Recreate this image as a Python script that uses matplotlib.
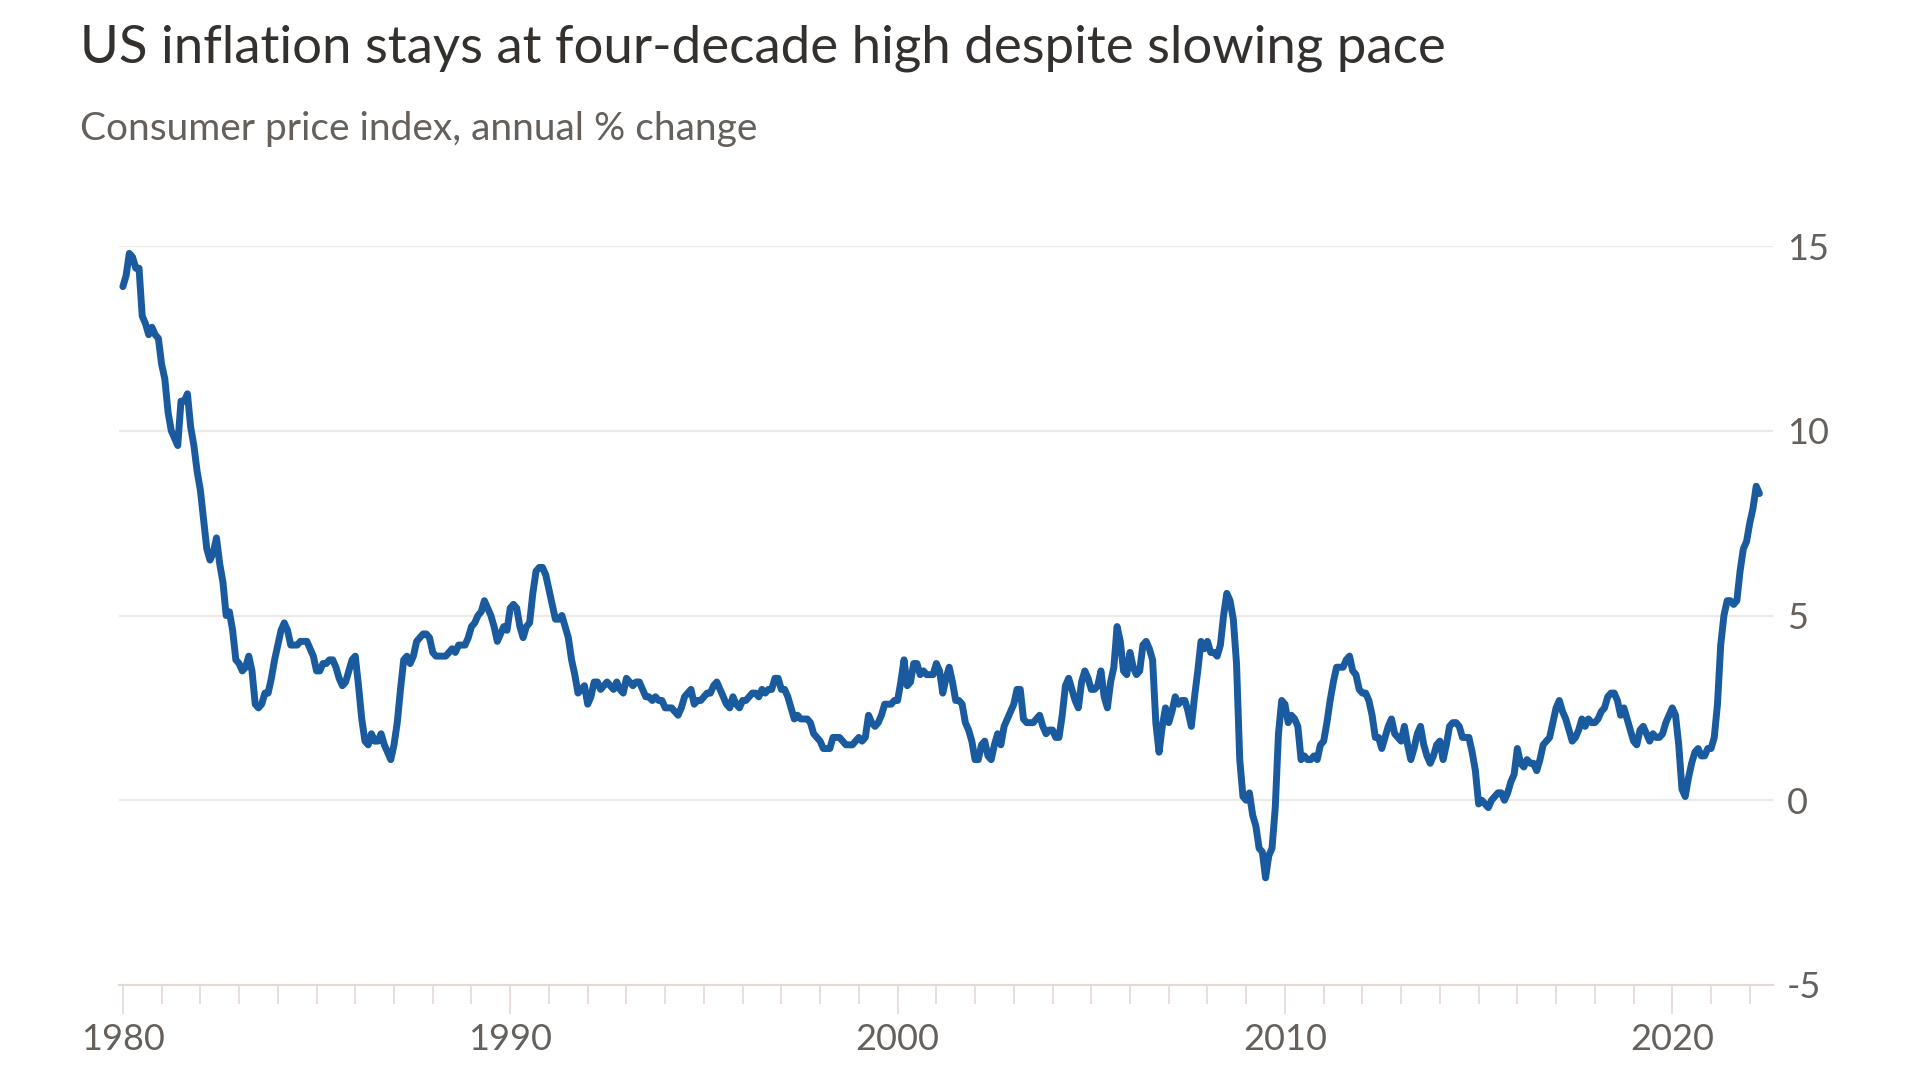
import numpy as np
import matplotlib
matplotlib.use("Agg")
import matplotlib.pyplot as plt
from matplotlib.ticker import MultipleLocator, FixedLocator

plt.rcParams['font.family'] = ['Lato', 'DejaVu Sans']
plt.rcParams['axes.unicode_minus'] = False

# US CPI, annual % change, monthly from Jan 1980 to Apr 2022
cpi_by_year = {
    1980: [13.9, 14.2, 14.8, 14.7, 14.4, 14.4, 13.1, 12.9, 12.6, 12.8, 12.6, 12.5],
    1981: [11.8, 11.4, 10.5, 10.0, 9.8, 9.6, 10.8, 10.8, 11.0, 10.1, 9.6, 8.9],
    1982: [8.4, 7.6, 6.8, 6.5, 6.7, 7.1, 6.4, 5.9, 5.0, 5.1, 4.6, 3.8],
    1983: [3.7, 3.5, 3.6, 3.9, 3.5, 2.6, 2.5, 2.6, 2.9, 2.9, 3.3, 3.8],
    1984: [4.2, 4.6, 4.8, 4.6, 4.2, 4.2, 4.2, 4.3, 4.3, 4.3, 4.1, 3.9],
    1985: [3.5, 3.5, 3.7, 3.7, 3.8, 3.8, 3.6, 3.3, 3.1, 3.2, 3.5, 3.8],
    1986: [3.9, 3.1, 2.2, 1.6, 1.5, 1.8, 1.6, 1.6, 1.8, 1.5, 1.3, 1.1],
    1987: [1.5, 2.1, 3.0, 3.8, 3.9, 3.7, 3.9, 4.3, 4.4, 4.5, 4.5, 4.4],
    1988: [4.0, 3.9, 3.9, 3.9, 3.9, 4.0, 4.1, 4.0, 4.2, 4.2, 4.2, 4.4],
    1989: [4.7, 4.8, 5.0, 5.1, 5.4, 5.2, 5.0, 4.7, 4.3, 4.5, 4.7, 4.6],
    1990: [5.2, 5.3, 5.2, 4.7, 4.4, 4.7, 4.8, 5.6, 6.2, 6.3, 6.3, 6.1],
    1991: [5.7, 5.3, 4.9, 4.9, 5.0, 4.7, 4.4, 3.8, 3.4, 2.9, 3.0, 3.1],
    1992: [2.6, 2.8, 3.2, 3.2, 3.0, 3.1, 3.2, 3.1, 3.0, 3.2, 3.0, 2.9],
    1993: [3.3, 3.2, 3.1, 3.2, 3.2, 3.0, 2.8, 2.8, 2.7, 2.8, 2.7, 2.7],
    1994: [2.5, 2.5, 2.5, 2.4, 2.3, 2.5, 2.8, 2.9, 3.0, 2.6, 2.7, 2.7],
    1995: [2.8, 2.9, 2.9, 3.1, 3.2, 3.0, 2.8, 2.6, 2.5, 2.8, 2.6, 2.5],
    1996: [2.7, 2.7, 2.8, 2.9, 2.9, 2.8, 3.0, 2.9, 3.0, 3.0, 3.3, 3.3],
    1997: [3.0, 3.0, 2.8, 2.5, 2.2, 2.3, 2.2, 2.2, 2.2, 2.1, 1.8, 1.7],
    1998: [1.6, 1.4, 1.4, 1.4, 1.7, 1.7, 1.7, 1.6, 1.5, 1.5, 1.5, 1.6],
    1999: [1.7, 1.6, 1.7, 2.3, 2.1, 2.0, 2.1, 2.3, 2.6, 2.6, 2.6, 2.7],
    2000: [2.7, 3.2, 3.8, 3.1, 3.2, 3.7, 3.7, 3.4, 3.5, 3.4, 3.4, 3.4],
    2001: [3.7, 3.5, 2.9, 3.3, 3.6, 3.2, 2.7, 2.7, 2.6, 2.1, 1.9, 1.6],
    2002: [1.1, 1.1, 1.5, 1.6, 1.2, 1.1, 1.5, 1.8, 1.5, 2.0, 2.2, 2.4],
    2003: [2.6, 3.0, 3.0, 2.2, 2.1, 2.1, 2.1, 2.2, 2.3, 2.0, 1.8, 1.9],
    2004: [1.9, 1.7, 1.7, 2.3, 3.1, 3.3, 3.0, 2.7, 2.5, 3.2, 3.5, 3.3],
    2005: [3.0, 3.0, 3.1, 3.5, 2.8, 2.5, 3.2, 3.6, 4.7, 4.3, 3.5, 3.4],
    2006: [4.0, 3.6, 3.4, 3.5, 4.2, 4.3, 4.1, 3.8, 2.1, 1.3, 2.0, 2.5],
    2007: [2.1, 2.4, 2.8, 2.6, 2.7, 2.7, 2.4, 2.0, 2.8, 3.5, 4.3, 4.1],
    2008: [4.3, 4.0, 4.0, 3.9, 4.2, 5.0, 5.6, 5.4, 4.9, 3.7, 1.1, 0.1],
    2009: [0.0, 0.2, -0.4, -0.7, -1.3, -1.4, -2.1, -1.5, -1.3, -0.2, 1.8, 2.7],
    2010: [2.6, 2.1, 2.3, 2.2, 2.0, 1.1, 1.2, 1.1, 1.1, 1.2, 1.1, 1.5],
    2011: [1.6, 2.1, 2.7, 3.2, 3.6, 3.6, 3.6, 3.8, 3.9, 3.5, 3.4, 3.0],
    2012: [2.9, 2.9, 2.7, 2.3, 1.7, 1.7, 1.4, 1.7, 2.0, 2.2, 1.8, 1.7],
    2013: [1.6, 2.0, 1.5, 1.1, 1.4, 1.8, 2.0, 1.5, 1.2, 1.0, 1.2, 1.5],
    2014: [1.6, 1.1, 1.5, 2.0, 2.1, 2.1, 2.0, 1.7, 1.7, 1.7, 1.3, 0.8],
    2015: [-0.1, 0.0, -0.1, -0.2, 0.0, 0.1, 0.2, 0.2, 0.0, 0.2, 0.5, 0.7],
    2016: [1.4, 1.0, 0.9, 1.1, 1.0, 1.0, 0.8, 1.1, 1.5, 1.6, 1.7, 2.1],
    2017: [2.5, 2.7, 2.4, 2.2, 1.9, 1.6, 1.7, 1.9, 2.2, 2.0, 2.2, 2.1],
    2018: [2.1, 2.2, 2.4, 2.5, 2.8, 2.9, 2.9, 2.7, 2.3, 2.5, 2.2, 1.9],
    2019: [1.6, 1.5, 1.9, 2.0, 1.8, 1.6, 1.8, 1.7, 1.7, 1.8, 2.1, 2.3],
    2020: [2.5, 2.3, 1.5, 0.3, 0.1, 0.6, 1.0, 1.3, 1.4, 1.2, 1.2, 1.4],
    2021: [1.4, 1.7, 2.6, 4.2, 5.0, 5.4, 5.4, 5.3, 5.4, 6.2, 6.8, 7.0],
    2022: [7.5, 7.9, 8.5, 8.3],
}

dates = []
values = []
for yr, vals in cpi_by_year.items():
    for m, v in enumerate(vals):
        dates.append(yr + m / 12)
        values.append(v)

y_ticks = [-5, 0, 5, 10, 15]
x_major = [1980, 1990, 2000, 2010, 2020]

line_col = '#1a5a9e'
grid_col = '#ede9e6'
axis_col = '#e4d9d3'
label_col = '#66605c'

fig = plt.figure(figsize=(19.2, 10.8), dpi=100)
ax = fig.add_axes([119 / 1920, 95 / 1080, (1773 - 119) / 1920, (985 - 246) / 1080])

for y in y_ticks[1:]:
    ax.axhline(y, color=grid_col, lw=1.6, zorder=1)

ax.plot(dates, values, color=line_col, lw=5, solid_joinstyle='round',
        solid_capstyle='round', zorder=3, clip_on=False)

ax.set_xlim(1979.9, 2022.6)
ax.set_ylim(-5, 15)

for s in ['top', 'left', 'right']:
    ax.spines[s].set_visible(False)
ax.spines['bottom'].set_color(axis_col)
ax.spines['bottom'].set_linewidth(1.6)

ax.xaxis.set_major_locator(FixedLocator(x_major))
ax.xaxis.set_minor_locator(MultipleLocator(1))
ax.tick_params(axis='x', which='major', length=21, width=1.2, color=axis_col,
               labelsize=26, labelcolor=label_col, pad=6)
ax.tick_params(axis='x', which='minor', length=14, width=1.2, color=axis_col)

ax.yaxis.tick_right()
ax.set_yticks(y_ticks)
ax.tick_params(axis='y', length=0, labelsize=26, labelcolor=label_col, pad=10)

fig.text(80 / 1920, 1 - 63 / 1080, "US inflation stays at four-decade high despite slowing pace",
         fontsize=38, color='#33302e', va='baseline', ha='left')
fig.text(80 / 1920, 1 - 140 / 1080, "Consumer price index, annual % change",
         fontsize=28, color=label_col, va='baseline', ha='left')

fig.savefig("out.png", dpi=100, facecolor='white')
